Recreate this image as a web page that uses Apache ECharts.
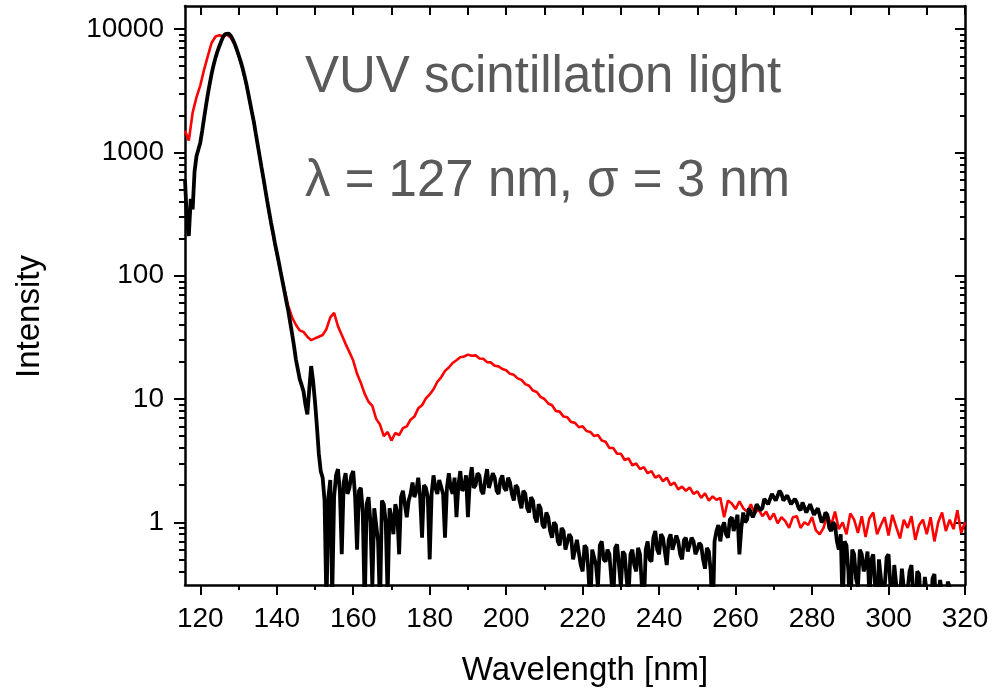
<!DOCTYPE html>
<html>
<head>
<meta charset="utf-8">
<script src="https://cdn.jsdelivr.net/npm/echarts@6/dist/echarts.min.js"></script>
<style>
html,body{margin:0;padding:0;background:#ffffff;}
#chart{width:1004px;height:692px;}
</style>
</head>
<body>
<div id="chart"></div>
<script>
// ---- data ----
// red spectrum: 116 nm .. 320 nm, 1 nm sampling
const redStart = 116, redStep = 1;
const redIntensity = [
  1500,1250,2100,2800,3500,4700,6100,7800,8700,8900,
  8800,9000,8500,7500,6100,4800,3600,2500,1750,1150,
  760,490,320,215,150,108,78,57,46,40,
  36,35,32,30,31,32,33,37,46,50,
  39,33,28,24,20.5,16,13.5,11,9.5,8.8,
  6.9,6.2,5.0,5.4,4.6,5.3,5.1,5.8,6.0,6.8,
  7.2,8.4,8.9,10.1,10.9,12.0,13.8,15.0,16.9,18.0,
  19.6,20.6,21.8,22.1,22.9,22.4,22.6,21.3,21.2,19.9,
  19.8,18.6,18.4,17.5,17.1,16.0,15.7,14.7,14.3,13.2,
  12.8,11.7,11.4,10.4,10.0,9.2,8.9,8.0,7.9,7.2,
  7.1,6.5,6.4,5.9,6.0,5.5,5.4,5.0,5.1,4.6,
  4.5,4.0,4.0,3.6,3.6,3.2,3.3,2.9,3.0,2.7,
  2.8,2.5,2.6,2.3,2.4,2.15,2.3,2.0,2.1,1.85,
  1.95,1.8,1.92,1.7,1.78,1.58,1.72,1.5,1.62,1.52,
  1.58,1.1,1.5,1.42,1.28,1.48,1.3,1.22,1.4,1.18,
  1.28,1.12,1.22,1.05,1.18,0.98,1.1,1.02,0.9,1.1,
  1.12,0.9,1.0,0.95,1.1,0.86,0.8,0.9,1.15,0.95,
  1.22,0.88,1.0,0.8,1.18,1.05,0.82,1.12,0.76,1.08,
  1.2,0.8,0.95,1.1,0.78,1.15,0.92,0.74,1.05,0.9,
  1.12,0.72,0.95,1.05,0.8,1.1,0.7,1.0,1.2,0.85,
  1.05,0.88,1.25,0.82,1.0
];

// black spectrum: 116 nm .. 320 nm, 0.5 nm sampling
const blackStart = 116, blackStep = 0.5;
const blackIntensity = [
  600,280,210,420,345,700,930,900,1200,1500,
  1900,2400,3000,3650,4400,5150,5900,6600,7300,8000,
  8700,9100,9400,9200,8800,8250,7600,6900,6200,5550,
  4900,4250,3650,3050,2550,2120,1780,1430,1160,940,
  760,620,500,405,330,270,225,185,155,130,
  108,90,75,62,52,42,34,27,21,17.5,
  14.5,13,11.5,9,7.5,12,18.5,14,9.5,6,
  3.6,2.6,2.3,1.5,0.2,1.6,2.2,0.25,1.6,2.4,
  2.7,1.8,0.55,2.1,2.5,1.7,1.9,2.4,2.6,1.6,
  0.6,1.8,1.9,1.2,0.2,1.4,1.6,1.0,0.3,1.3,
  1.3,0.7,0.2,1.5,1.4,1.0,0.25,1.3,1.1,0.8,
  1.4,1.2,0.55,1.6,1.8,1.4,1.1,1.5,1.7,2.1,
  1.6,1.8,2.3,1.6,0.75,2.0,1.9,1.6,0.5,1.7,
  2.4,1.9,1.7,2.2,2.2,1.7,0.75,1.9,2.5,1.9,
  1.7,2.3,1.1,2.0,2.6,1.8,1.9,2.4,1.1,2.2,
  2.8,1.9,2.0,2.5,2.4,1.8,1.7,2.2,2.7,1.9,
  1.9,2.5,2.3,1.8,1.7,2.2,2.4,1.9,1.8,2.3,
  2.1,1.7,1.5,2.0,1.9,1.5,1.3,1.8,1.7,1.3,
  1.2,1.6,1.5,1.1,1.0,1.4,1.3,0.95,0.9,1.2,
  1.1,0.85,0.75,1.0,0.95,0.7,0.65,0.9,0.85,0.6,
  0.6,0.8,0.75,0.5,0.5,0.72,0.7,0.45,0.4,0.65,
  0.62,0.4,0.2,0.6,0.58,0.45,0.3,0.65,0.7,0.5,
  0.48,0.6,0.55,0.35,0.22,0.62,0.66,0.45,0.3,0.58,
  0.55,0.35,0.25,0.55,0.6,0.45,0.4,0.62,0.55,0.3,
  0.2,0.6,0.7,0.5,0.48,0.75,0.85,0.6,0.55,0.8,
  0.75,0.58,0.45,0.72,0.8,0.6,0.6,0.78,0.7,0.55,
  0.5,0.72,0.75,0.58,0.6,0.75,0.7,0.55,0.6,0.68,
  0.65,0.5,0.42,0.62,0.58,0.4,0.15,0.7,0.85,0.95,
  0.7,0.9,1.0,0.8,0.75,1.05,1.1,0.85,1.0,1.15,
  0.55,0.9,1.2,1.0,1.05,1.3,1.3,1.1,1.2,1.4,
  1.45,1.25,1.3,1.55,1.6,1.4,1.45,1.7,1.75,1.5,
  1.5,1.8,1.7,1.5,1.45,1.65,1.6,1.4,1.35,1.55,
  1.45,1.3,1.25,1.45,1.4,1.2,1.2,1.4,1.35,1.15,
  1.15,1.3,1.3,1.0,1.05,1.2,1.15,0.9,0.85,1.0,
  0.95,0.7,0.6,0.8,0.2,0.7,0.65,0.4,0.15,0.6,
  0.55,0.35,0.3,0.6,0.55,0.4,0.45,0.58,0.25,0.5,
  0.55,0.3,0.2,0.5,0.5,0.25,0.3,0.52,0.55,0.3,
  0.2,0.45,0.45,0.22,0.25,0.42,0.42,0.2,0.2,0.4,
  0.45,0.25,0.18,0.4,0.38,0.2,0.22,0.36,0.35,0.2,
  0.15,0.35,0.38,0.2,0.2,0.34,0.35,0.2,0.15,0.33,
  0.3,0.2,0.2,0.28,0.25,0.18,0.15,0.22,0.2
];

const xMajorTicks = [120,140,160,180,200,220,240,260,280,300,320];
const xMinorTicks = [130,150,170,190,210,230,250,270,290,310];
const yMajorTicks = [1,10,100,1000,10000];
const yMinorTicks = [0.4,0.5,0.6,0.7,0.8,0.9,2,3,4,5,6,7,8,9,20,30,40,50,60,70,80,90,
                     200,300,400,500,600,700,800,900,2000,3000,4000,5000,6000,7000,8000,9000];
const xRange = [116, 320];
const yRange = [0.31, 15400];
const xAxisTitle = 'Wavelength [nm]';
const yAxisTitle = 'Intensity';
const annotationLines = ['VUV scintillation light', 'λ = 127 nm, σ = 3 nm'];

// ---- build ----
const redData = redIntensity.map((v, i) => [redStart + i * redStep, v]);
const blackData = blackIntensity.map((v, i) => [blackStart + i * blackStep, v]);

const FONT = '"Liberation Sans", Arial, Helvetica, sans-serif';
const INK = '#000000';

function xAx(position, ticks, len, inside, showLine, extra) {
  return Object.assign({
    type: 'value', position: position, min: xRange[0], max: xRange[1],
    axisLine: { show: showLine, onZero: false, lineStyle: { color: INK, width: 2.5 } },
    axisTick: { show: true, customValues: ticks, inside: inside, length: len, lineStyle: { color: INK, width: 2 } },
    axisLabel: { show: false },
    splitLine: { show: false }
  }, extra || {});
}
function yAx(position, ticks, len, inside, showLine, extra) {
  return Object.assign({
    type: 'log', logBase: 10, position: position, min: yRange[0], max: yRange[1],
    axisLine: { show: showLine, onZero: false, lineStyle: { color: INK, width: 2.5 } },
    axisTick: { show: true, customValues: ticks, inside: inside, length: len, lineStyle: { color: INK, width: 2 } },
    axisLabel: { show: false },
    splitLine: { show: false }
  }, extra || {});
}

const chart = echarts.init(document.getElementById('chart'), null, { renderer: 'canvas' });
chart.setOption({
  animation: false,
  backgroundColor: '#ffffff',
  grid: { left: 185, right: 39, top: 6, bottom: 105, containLabel: false },
  xAxis: [
    xAx('bottom', xMajorTicks, 10, false, true, {
      axisLabel: { show: true, customValues: xMajorTicks, margin: 20, fontSize: 28, color: INK, fontFamily: FONT },
      name: xAxisTitle, nameLocation: 'middle', nameGap: 69,
      nameTextStyle: { fontSize: 33, color: INK, fontFamily: FONT, padding: [0, 0, 0, 20] }
    }),
    xAx('bottom', xMinorTicks, 5, false, false),
    xAx('top', xMajorTicks, 9, true, true),
    xAx('top', xMinorTicks, 9, true, false)
  ],
  yAxis: [
    yAx('left', yMajorTicks, 11, false, true, {
      axisLabel: { show: true, customValues: yMajorTicks, margin: 21, fontSize: 28, color: INK, fontFamily: FONT,
                   formatter: v => String(Math.round(v)) },
      name: yAxisTitle, nameLocation: 'middle', nameGap: 139, nameRotate: 90,
      nameTextStyle: { fontSize: 33, color: INK, fontFamily: FONT, padding: [0, 42, 0, 0] }
    }),
    yAx('left', yMinorTicks, 6, false, false),
    yAx('right', yMajorTicks, 10, true, true),
    yAx('right', yMinorTicks, 5, true, false)
  ],
  series: [
    { name: 'red', type: 'line', xAxisIndex: 0, yAxisIndex: 0, data: redData, showSymbol: false, symbol: 'none',
      lineStyle: { color: '#ff0000', width: 2.6 }, clip: true, z: 2 },
    { name: 'black', type: 'line', xAxisIndex: 0, yAxisIndex: 0, data: blackData, showSymbol: false, symbol: 'none',
      lineStyle: { color: '#000000', width: 3.8 }, clip: true, z: 3 }
  ],
  graphic: [
    { type: 'text', x: 305, y: 78, style: { text: annotationLines[0], fill: '#5a5a5a', fontSize: 51, fontFamily: FONT, align: 'left', verticalAlign: 'middle' } },
    { type: 'text', x: 305, y: 182, style: { text: annotationLines[1], fill: '#5a5a5a', fontSize: 51, fontFamily: FONT, align: 'left', verticalAlign: 'middle' } }
  ]
});
</script>
</body>
</html>
